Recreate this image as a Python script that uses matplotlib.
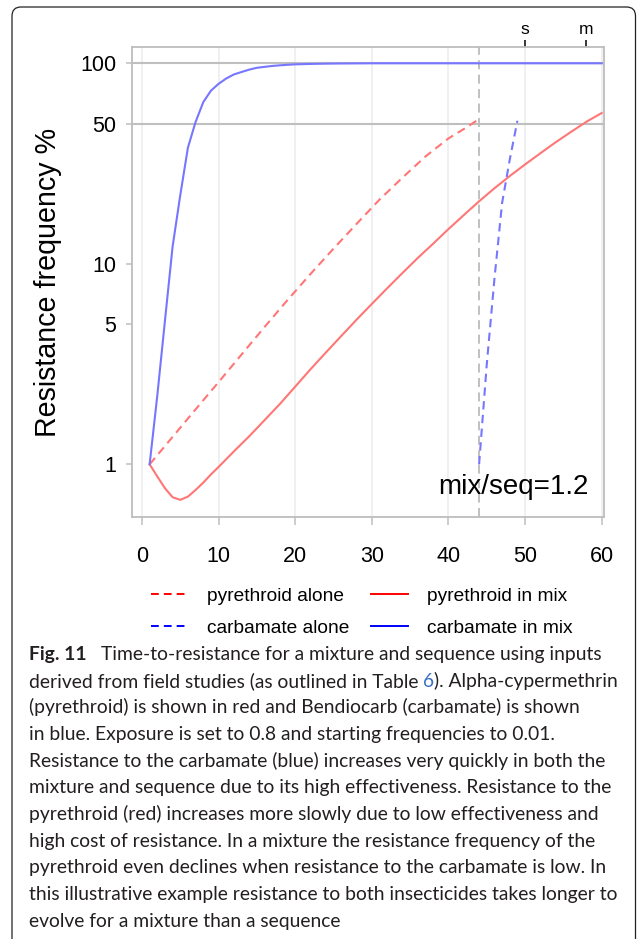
import matplotlib
matplotlib.use('Agg')
import matplotlib.pyplot as plt
from matplotlib.lines import Line2D
from matplotlib.patches import FancyBboxPatch
from matplotlib.ticker import NullLocator, FixedLocator

# values (generation, resistance frequency %)
carb_mix_x = [1, 2, 3, 4, 5, 6, 7, 8, 9, 10, 11, 12, 13, 14, 15, 16, 17, 18, 19, 20,
              22, 24, 26, 28, 30, 35, 40, 50, 60]
carb_mix_y = [1.0, 2.2, 5.2, 12.2, 22, 38, 51, 64, 73, 79, 84, 88, 90.5, 93, 95, 96, 97, 97.7, 98.3, 98.8,
              99.3, 99.6, 99.8, 99.9, 100, 100, 100, 100, 100]

pyr_alone_x = [1, 4, 7, 10, 13, 16, 19, 22, 25, 28, 31, 34, 37, 40, 42, 44]
pyr_alone_y = [1.0, 1.37, 1.88, 2.57, 3.53, 4.84, 6.6, 8.9, 11.9, 15.8, 20.9, 26.9, 34.3, 42.2, 47, 52.7]

pyr_mix_x = [1, 2, 3, 4, 5, 6, 7, 8, 9, 10, 12, 14, 16, 18, 20, 22, 24, 26, 28, 30, 32, 34, 36, 38,
             40, 42, 44, 46, 48, 50, 52, 54, 56, 58, 60]
pyr_mix_y = [1.0, 0.87, 0.76, 0.685, 0.665, 0.69, 0.745, 0.81, 0.89, 0.97, 1.16, 1.38, 1.66, 2.0,
             2.44, 2.98, 3.61, 4.36, 5.26, 6.31, 7.55, 9.0, 10.7, 12.6, 14.9, 17.5, 20.5,
             23.8, 27.4, 31.3, 35.6, 40.4, 45.5, 51.1, 56.5]

carb_alone_x = [44, 45, 46, 47, 48, 49]
carb_alone_y = [1.0, 3.15, 8.4, 20.1, 33.1, 51.7]

switch_gen = 44
seq_time = 50
mix_time = 58
ratio_label = 'mix/seq=1.2'

x_ticks = [0, 10, 20, 30, 40, 50, 60]
y_ticks = [1, 5, 10, 50, 100]
ref_lines = [50, 100]

legend_labels = ['pyrethroid alone', 'carbamate alone', 'pyrethroid in mix', 'carbamate in mix']

caption_lines = [
    'Time-to-resistance for a mixture and sequence using inputs',
    'derived from field studies (as outlined in Table ',
    '(pyrethroid) is shown in red and Bendiocarb (carbamate) is shown',
    'in blue. Exposure is set to 0.8 and starting frequencies to 0.01.',
    'Resistance to the carbamate (blue) increases very quickly in both the',
    'mixture and sequence due to its high effectiveness. Resistance to the',
    'pyrethroid (red) increases more slowly due to low effectiveness and',
    'high cost of resistance. In a mixture the resistance frequency of the',
    'pyrethroid even declines when resistance to the carbamate is low. In',
    'this illustrative example resistance to both insecticides takes longer to',
    'evolve for a mixture than a sequence',
]

W, H = 637, 939
plt.rcParams['font.family'] = ['Liberation Sans', 'DejaVu Sans']
fig = plt.figure(figsize=(W / 100, H / 100), dpi=100)

RED = '#ff7676'
BLUE = '#7676ff'
GRID = '#bfbfbf'

ax = fig.add_axes([132 / W, 1 - 517 / H, (604 - 132) / W, (517 - 46.7) / H])
ax.set_yscale('log')
ax.set_xlim(-1.3, 60.3)
ax.set_ylim(0.546, 121)

for xv in x_ticks:
    ax.axvline(xv, color='#ececec', lw=1.1, zorder=0)
for yv in ref_lines:
    ax.axhline(yv, color=GRID, lw=1.5, zorder=1)
ax.axvline(switch_gen, color='#bbbbbb', lw=1.3, ls=(0, (5, 3)), zorder=1)

ax.plot(pyr_alone_x, pyr_alone_y, color=RED, lw=1.5, ls=(0, (4, 2.6)), zorder=3)
ax.plot(pyr_mix_x, pyr_mix_y, color=RED, lw=1.5, zorder=3)
ax.plot(carb_alone_x, carb_alone_y, color=BLUE, lw=1.5, ls=(0, (4, 2.6)), zorder=3)
ax.plot(carb_mix_x, carb_mix_y, color=BLUE, lw=1.5, zorder=3)

ax.yaxis.set_major_locator(FixedLocator(y_ticks))
ax.yaxis.set_minor_locator(NullLocator())
ax.set_yticklabels([str(v) for v in y_ticks])
ax.set_xticks(x_ticks)
ax.tick_params(axis='y', length=4.3, width=1.1, color=GRID, labelsize=15.5, pad=7)
ax.tick_params(axis='x', length=5.8, width=1.1, color=GRID, labelsize=15.5, pad=15)
for sp in ax.spines.values():
    sp.set_color('#bdbdbd')
    sp.set_linewidth(1.3)

sec = ax.secondary_xaxis('top')
sec.set_xticks([seq_time, mix_time], ['s', 'm'])
sec.tick_params(length=4.8, width=1.1, color='black', labelsize=12.5, pad=2.5)
sec.spines['top'].set_visible(False)

ax.text(0.968, 0.064, ratio_label, transform=ax.transAxes, ha='right', va='center', fontsize=20)
fig.text(47.8 / W, 1 - 282 / H, 'Resistance frequency %', rotation=90,
         ha='center', va='center', fontsize=20.6)

handles = [
    Line2D([], [], color='red', lw=1.4, ls=(0, (4, 2.6))),
    Line2D([], [], color='blue', lw=1.4, ls=(0, (4, 2.6))),
    Line2D([], [], color='red', lw=1.4),
    Line2D([], [], color='blue', lw=1.4),
]
fig.legend(handles, legend_labels, ncol=2, loc='center', bbox_to_anchor=(362 / W, 1 - 612 / H),
           frameon=False, fontsize=13.8, handlelength=1.92, handletextpad=1.0,
           columnspacing=1.15, labelspacing=0.78)

# outer rounded frame (bottom edge runs off the page)
frame = FancyBboxPatch((0.12, -0.3), 6.235, 9.32 + 0.3,
                       boxstyle='round,pad=0,rounding_size=0.09',
                       transform=fig.dpi_scale_trans, fill=False, ec='#222222', lw=0.9)
fig.add_artist(frame)

# caption
cap_font = ['Lato', 'DejaVu Sans']
renderer = fig.canvas.get_renderer()
probe = fig.text(0, 0, caption_lines[9], fontsize=10, family=cap_font)
cap_size = 10 * 591 / probe.get_window_extent(renderer).width
probe.remove()

x0 = 29
base0 = 660
step = 26.67

def put(xpix, line_i, s, color='#231f20', **kw):
    t = fig.text(xpix / W, 1 - (base0 + line_i * step) / H, s, fontsize=cap_size,
                 family=cap_font, va='baseline', ha='left', color=color, **kw)
    return t.get_window_extent(renderer).x1

put(x0, 0, 'Fig. 11', fontweight='bold')
put(101, 0, caption_lines[0])
xe = put(x0, 1, caption_lines[1])
xe = put(xe, 1, '6', color='#3a6fc4')
put(xe, 1, '). Alpha-cypermethrin')
for i in range(2, len(caption_lines)):
    put(x0, i, caption_lines[i])

fig.savefig('out.png', dpi=100)
